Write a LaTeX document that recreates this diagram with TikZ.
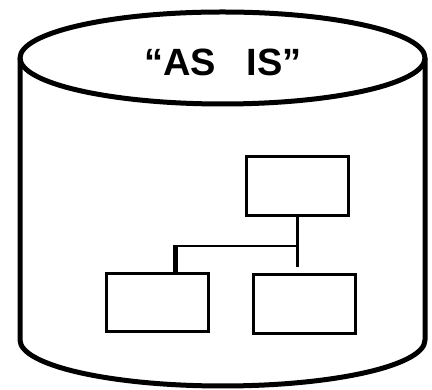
\documentclass[tikz,border=0pt]{standalone}
\usepackage{fontspec}
\setmainfont{Liberation Sans}
\begin{document}
\begin{tikzpicture}[x=1pt,y=1pt,
  cyl/.style={line width=5pt, line join=round},
  boxnode/.style={draw, line width=3.2pt, minimum width=102pt, minimum height=59pt, inner sep=0pt},
  thin/.style={line width=2.2pt},
  thick/.style={line width=5pt}]
\useasboundingbox (0,0) rectangle (432,390);
% cylinder
\draw[cyl] (20,332) -- (20,50) arc[start angle=180, end angle=360, x radius=202.5, y radius=46] -- (425,332);
\draw[cyl] (222.5,332) ellipse[x radius=202.5, y radius=46];
\node[font=\bfseries\fontsize{38}{40}\selectfont, anchor=base, inner sep=0pt] (title) at (223,314) {“AS\hspace{0.8em}IS”};
% boxes
\node[boxnode] (top) at (297.5,204) {};
\node[boxnode, minimum height=58pt] (left) at (157.5,87.5) {};
\node[boxnode] (right) at (304.5,86) {};
% connectors
\coordinate (j) at (297.5,144);
\coordinate (e) at (297.5,123);
\coordinate (k) at (175,144);
\draw[thin] (top.south) -- (e);
\draw[thin] (j) -- (k);
\draw[thick] ([yshift=1pt]k) -- ([yshift=-3pt]k |- left.north);
\end{tikzpicture}
\end{document}
